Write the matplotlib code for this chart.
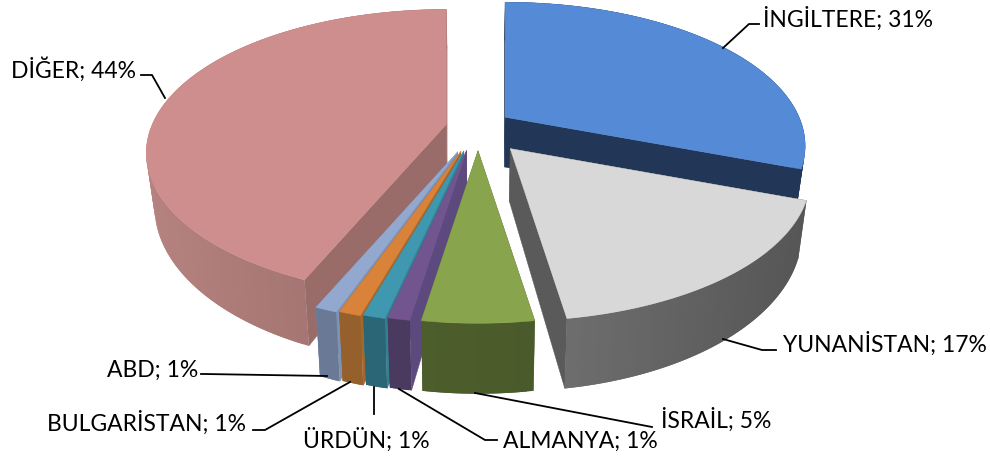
import numpy as np
import matplotlib
matplotlib.use('Agg')
import matplotlib.pyplot as plt
from matplotlib.colors import to_rgb

## Slice data, clockwise from the top
labels = ['İNGİLTERE', 'YUNANİSTAN', 'İSRAİL', 'ALMANYA', 'ÜRDÜN', 'BULGARİSTAN', 'ABD', 'DİĞER']
values = [31, 17, 5, 1, 1, 1, 1, 44]

## Colours per slice
top_colors = ['#558ad6', '#d8d8d8', '#88a54e', '#72558f', '#3f97b0', '#d98239', '#92a8cf', '#ce8e8d']
side_colors = ['#223757', '#5a5a5a', '#4f602c', '#5c4a7e', '#338091', '#a5682c', '#7d92b5', '#996c69']
wall_left = ['#223757', '#6e6e6e', '#4d5e2c', '#4a3a5f', '#2b6676', '#95602b', '#6a7a96', '#b5827f']
wall_right = ['#223757', '#565656', '#4a5a2a', '#4a3a5f', '#2b6676', '#95602b', '#6a7a96', '#976b68']
explode = [1.0, 1.4, 1.2, 1.2, 1.25, 1.3, 1.35, 0.95]
nudge_x = [0, 3, 0, -4, -4, -4, -4, -1]

## Projection of the pie, in pixels
cx, cy = 478, 129
fx, fy, dist = 1470, 690, 5.0
ex, ey = 33, 19


def apex(mid, k):
    return cx + k * ex * np.sin(mid), cy - k * ey * np.cos(mid)


def rim(theta, ax0, ay0):
    u, v = np.sin(theta), -np.cos(theta)
    return ax0 + fx * u / (dist - v), ay0 + fy * v / (dist - v)


## Bottom of the wall under a point of the top face
def below(x, y):
    return cx + (np.asarray(x) - cx) * 0.975, np.asarray(y) + 55 + 0.1 * (np.asarray(y) - 170)


fig = plt.figure(figsize=(9.9, 4.6), dpi=100)
ax = fig.add_axes([0, 0, 1, 1])
ax.set_xlim(0, 990)
ax.set_ylim(460, 0)
ax.axis('off')

edges = np.cumsum([0] + values) / sum(values) * 2 * np.pi
# back slices first so the front ones cover them
order = [7, 0, 1, 6, 5, 4, 3, 2]
for z, i in enumerate(order):
    t0, t1 = edges[i], edges[i + 1]
    x0, y0 = apex((t0 + t1) / 2, explode[i])
    x0 = x0 + nudge_x[i]
    th = np.linspace(t0, t1, max(int(np.degrees(t1 - t0)), 8) + 1)
    xs, ys = rim(th, x0, y0)
    xb, yb = below(xs, ys)
    x0b, y0b = below(x0, y0)
    # radial walls
    for j in (0, -1):
        ax.fill([x0, xs[j], xb[j], x0b], [y0, ys[j], yb[j], y0b], color=side_colors[i], lw=0.3, zorder=z * 3)
    # outer wall, shaded in strips from its left side to its right side
    # each strip runs over the next one so no seams show
    lo, hi = np.array(to_rgb(wall_left[i])), np.array(to_rgb(wall_right[i]))
    for j in range(len(th) - 1):
        f = (xs[j] - xs.min()) / max(xs.max() - xs.min(), 1)
        c = lo + (hi - lo) * f
        e = min(j + 2, len(th) - 1)
        ax.fill(np.r_[xs[j:e + 1], xb[j:e + 1][::-1]], np.r_[ys[j:e + 1], yb[j:e + 1][::-1]],
                color=c, lw=0, zorder=z * 3 + 1)
    ax.fill(np.r_[x0, xs], np.r_[y0, ys], color=top_colors[i], lw=0.3, zorder=z * 3 + 2)

## Labels and their leader lines
label_pos = [(763, 19), (783, 344), (661, 420), (503, 441), (303, 440), (47, 423), (107, 370), (11, 70)]
leaders = [
    [(723, 49), (749, 25), (759, 25)],
    [(723, 340), (762, 351), (776, 351)],
    [(475, 394), (652, 428)],
    [(399, 390), (485, 441), (497, 441)],
    [(374, 388), (374, 415)],
    [(350, 383), (265, 431), (253, 431)],
    [(327, 377), (205, 375), (201, 375)],
    [(165, 99), (152, 76), (141, 76)],
]
for name, val, pos, line in zip(labels, values, label_pos, leaders):
    ax.text(pos[0], pos[1], f'{name}; {val}%', family=['Lato', 'DejaVu Sans'], fontsize=16.5,
            color='black', va='center', ha='left', zorder=40)
    ax.plot(*zip(*line), color='black', lw=1.3, zorder=39)

fig.savefig('out.png', dpi=100)
